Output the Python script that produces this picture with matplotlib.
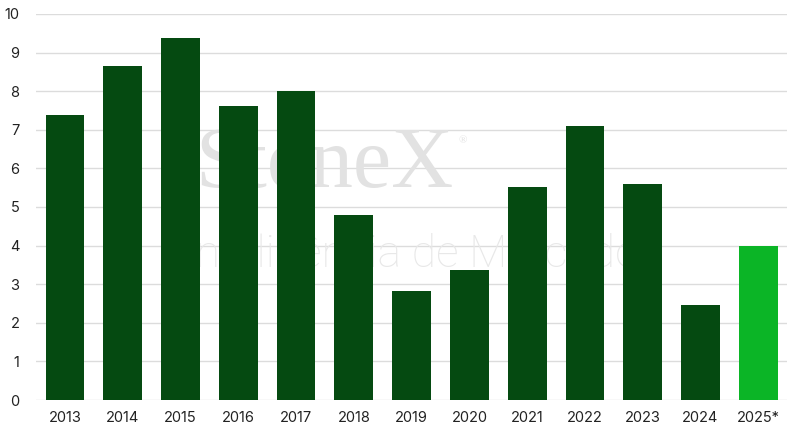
import matplotlib
matplotlib.use("Agg")
import matplotlib.pyplot as plt

years = ["2013", "2014", "2015", "2016", "2017", "2018", "2019", "2020",
         "2021", "2022", "2023", "2024", "2025*"]
values = [7.38, 8.64, 9.37, 7.62, 8.0, 4.79, 2.82, 3.37, 5.53, 7.1, 5.6, 2.46, 4.0]
yticks = list(range(0, 11))

dark = "#054A11"
bright = "#0BB526"
colors = [dark] * (len(years) - 1) + [bright]

plt.rcParams["font.family"] = ["Inter", "DejaVu Sans"]

fig = plt.figure(figsize=(8, 4.33), dpi=100)
ax = fig.add_axes([0.045, 0.0762, 0.939, 0.8915])

x = list(range(len(years)))
ax.bar(x, values, width=0.67, color=colors, zorder=3)

ax.set_xlim(-0.5, len(years) - 0.5)
ax.set_ylim(0, 10)
ax.set_yticks(yticks)
ax.set_xticks(x)
ax.set_xticklabels(years)
ax.grid(axis="y", color="#DCDCDC", linewidth=1, zorder=0)
ax.set_axisbelow(True)
for s in ax.spines.values():
    s.set_visible(False)
ax.tick_params(axis="both", length=0, labelsize=10.5, colors="#222222")
ax.tick_params(axis="x", pad=8)
ax.tick_params(axis="y", pad=12)

# faint watermark, behind bars
ax.text(0.405, 0.617, "StoneX", fontsize=62, family=["Liberation Serif"],
        color="#E2E2E2", ha="center", va="center", zorder=1,
        transform=fig.transFigure)
ax.text(0.578, 0.675, "®", fontsize=8, family=["Liberation Serif"],
        color="#E2E2E2", ha="center", va="center", zorder=1,
        transform=fig.transFigure)
ax.text(0.515, 0.413, "Inteligência de Mercado", fontsize=32, family=["Roboto"],
        fontweight=100, color="#E8E8E8", ha="center", va="center", zorder=1,
        transform=fig.transFigure)

fig.savefig("out.png", dpi=100)
